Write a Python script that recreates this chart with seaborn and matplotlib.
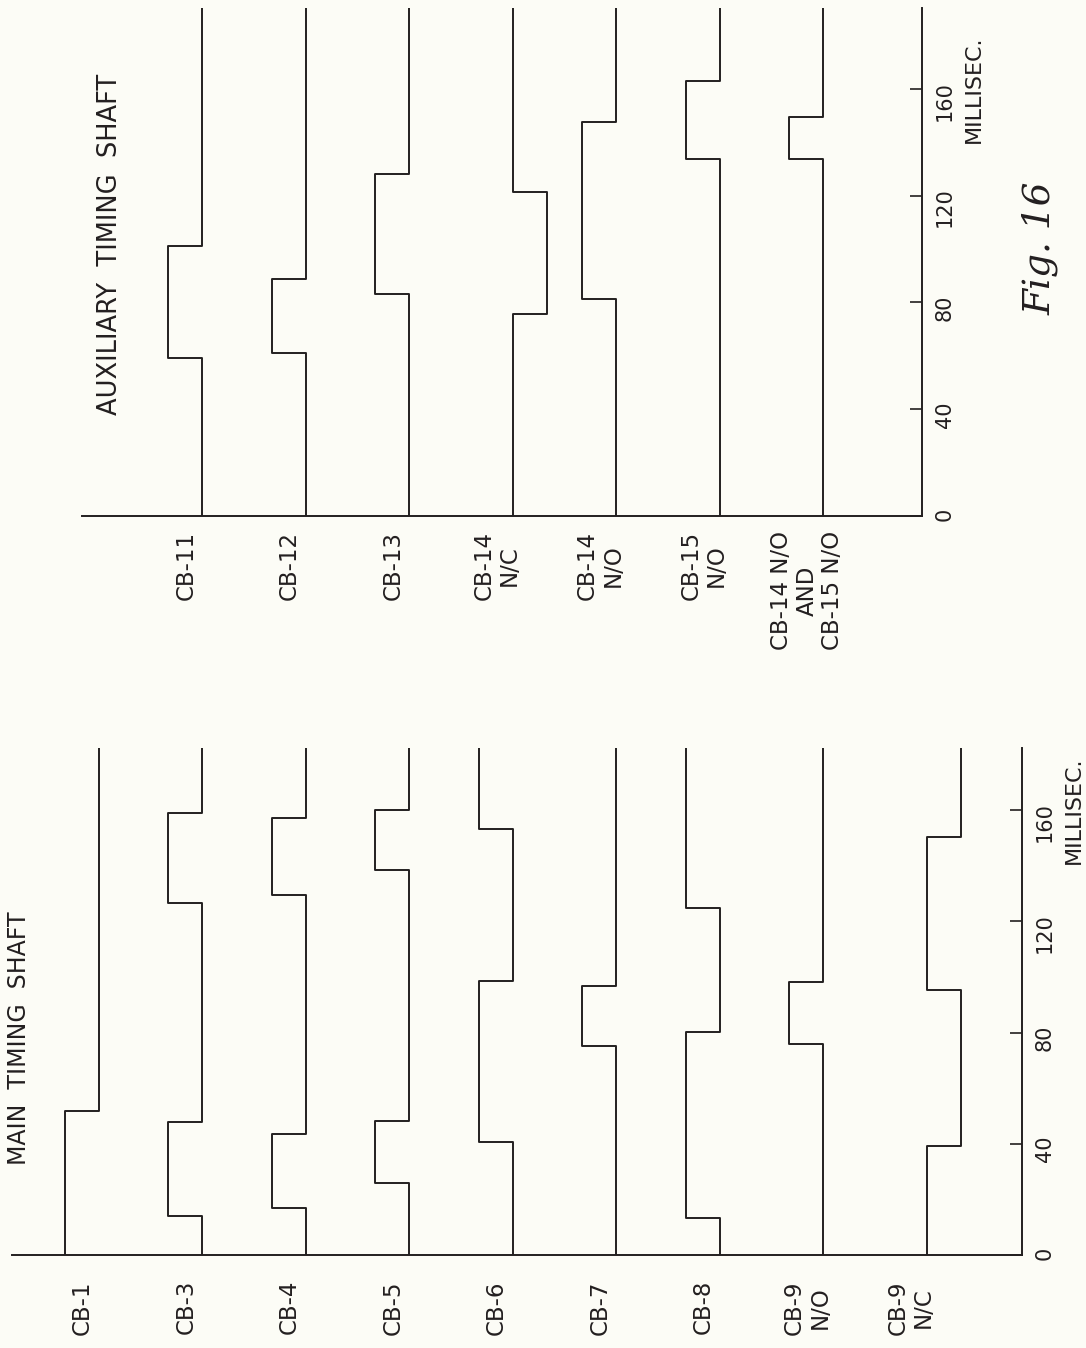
import matplotlib
matplotlib.use('Agg')
import matplotlib.pyplot as plt
import seaborn as sns
import pandas as pd

# Fig. 16 - contact timing of the main and auxiliary timing shafts
# switching times in millisec; each edge toggles the contact
main_labels = ['CB-1', 'CB-3', 'CB-4', 'CB-5', 'CB-6', 'CB-7', 'CB-8',
               'CB-9\nN/O', 'CB-9\nN/C']
main_start = [1, 0, 0, 0, 0, 0, 0, 0, 0]
main_edges = [
    [51.8],
    [14.0, 47.8, 126.6, 159.0],
    [16.9, 43.5, 129.5, 157.2],
    [25.9, 48.2, 138.5, 160.1],
    [40.6, 98.6, 153.2],
    [75.2, 96.8],
    [13.3, 80.2, 124.8],
    [75.9, 98.2],
    [39.2, 95.3, 150.4],
]
main_end = 182.4

aux_labels = ['CB-11', 'CB-12', 'CB-13', 'CB-14\nN/C', 'CB-14\nN/O',
              'CB-15\nN/O', 'CB-14 N/O\nAND\nCB-15 N/O']
aux_start = [0, 0, 0, 0, 0, 0, 0]
aux_edges = [
    [59.2, 101.1],
    [61.0, 88.8],
    [83.1, 128.1],
    [75.7, 121.3],
    [81.3, 147.6],
    [133.7, 162.9],
    [133.7, 149.4],
]
aux_end = 190.3

time_ticks = [0, 40, 80, 120, 160]

INK = '#231f20'
PAPER = '#fcfcf6'
AMP = 0.33  # step width in channel slots


def trace_points(labels, starts, edges, first_slot, t_end):
    rows = []
    for k, (name, state, ts) in enumerate(zip(labels, starts, edges)):
        slot = first_slot + k
        sign = 1 if name.endswith('N/C') else -1
        x = slot + sign * AMP * state
        rows.append((name, x, 0.0))
        for t in ts:
            rows.append((name, x, t))
            state = 1 - state
            x = slot + sign * AMP * state
            rows.append((name, x, t))
        rows.append((name, x, t_end))
    return pd.DataFrame(rows, columns=['channel', 'pos', 't'])


def style_axis(ax, xlim, t_end):
    ax.set_xlim(*xlim)
    ax.set_ylim(0, t_end)
    ax.set_facecolor('none')
    for s in ['top', 'left']:
        ax.spines[s].set_visible(False)
    for s in ['bottom', 'right']:
        ax.spines[s].set_linewidth(1.4)
        ax.spines[s].set_color(INK)
    ax.set_xticks([])
    ax.yaxis.tick_right()
    ax.set_yticks(time_ticks)
    ax.set_yticklabels([str(v) for v in time_ticks])
    ax.tick_params(axis='y', direction='in', length=8.6, width=1.2,
                   colors=INK, pad=9.0, labelsize=15, labelrotation=90)
    ax.set_xlabel('')
    ax.set_ylabel('')
    ax.annotate('MILLISEC.', xy=(1, 160), xycoords=('axes fraction', 'data'),
                xytext=(37.5, 0), textcoords='offset points', rotation=90,
                ha='center', va='center', fontsize=16, color=INK,
                annotation_clip=False)


sns.set_theme(style='white')
plt.rcParams['font.family'] = ['DejaVu Sans']

fig = plt.figure(figsize=(10.86, 13.48), dpi=100, facecolor=PAPER)

# lower block: main timing shaft
ax_main = fig.add_axes([12 / 1086, 93 / 1348, 1010 / 1086, 507 / 1348])
df_main = trace_points(main_labels, main_start, main_edges, 0, main_end)
sns.lineplot(data=df_main, x='pos', y='t', units='channel', estimator=None,
             sort=False, color=INK, lw=1.4, ax=ax_main, legend=False)
style_axis(ax_main, (-0.838, 8.921), main_end)
for k, name in enumerate(main_labels):
    ax_main.text(k - 0.155, -9.0, name, rotation=90, ha='center', va='top',
                 multialignment='center', linespacing=1.15, fontsize=16.5,
                 color=INK, clip_on=False)

# upper block: auxiliary timing shaft
ax_aux = fig.add_axes([82 / 1086, 832 / 1348, 840 / 1086, 508 / 1348])
df_aux = trace_points(aux_labels, aux_start, aux_edges, 1, aux_end)
sns.lineplot(data=df_aux, x='pos', y='t', units='channel', estimator=None,
             sort=False, color=INK, lw=1.4, ax=ax_aux, legend=False)
style_axis(ax_aux, (-0.161, 7.955), aux_end)
for k, name in enumerate(aux_labels):
    ax_aux.text(k + 1 - 0.155, -5.6, name, rotation=90, ha='center', va='top',
                multialignment='center', linespacing=1.15, fontsize=16.5,
                color=INK, clip_on=False)

fig.text(19 / 1086, 1 - 1038 / 1348, 'MAIN  TIMING  SHAFT', rotation=90,
         ha='center', va='center', fontsize=17, color=INK)
fig.text(110 / 1086, 1 - 244 / 1348, 'AUXILIARY  TIMING  SHAFT', rotation=90,
         ha='center', va='center', fontsize=18.5, color=INK)
fig.text(1040 / 1086, 1 - 248 / 1348, 'Fig. 16', rotation=90,
         ha='center', va='center', fontsize=27, color=INK,
         family='DejaVu Serif', style='italic')

fig.savefig('out.png', dpi=100, facecolor=PAPER)
